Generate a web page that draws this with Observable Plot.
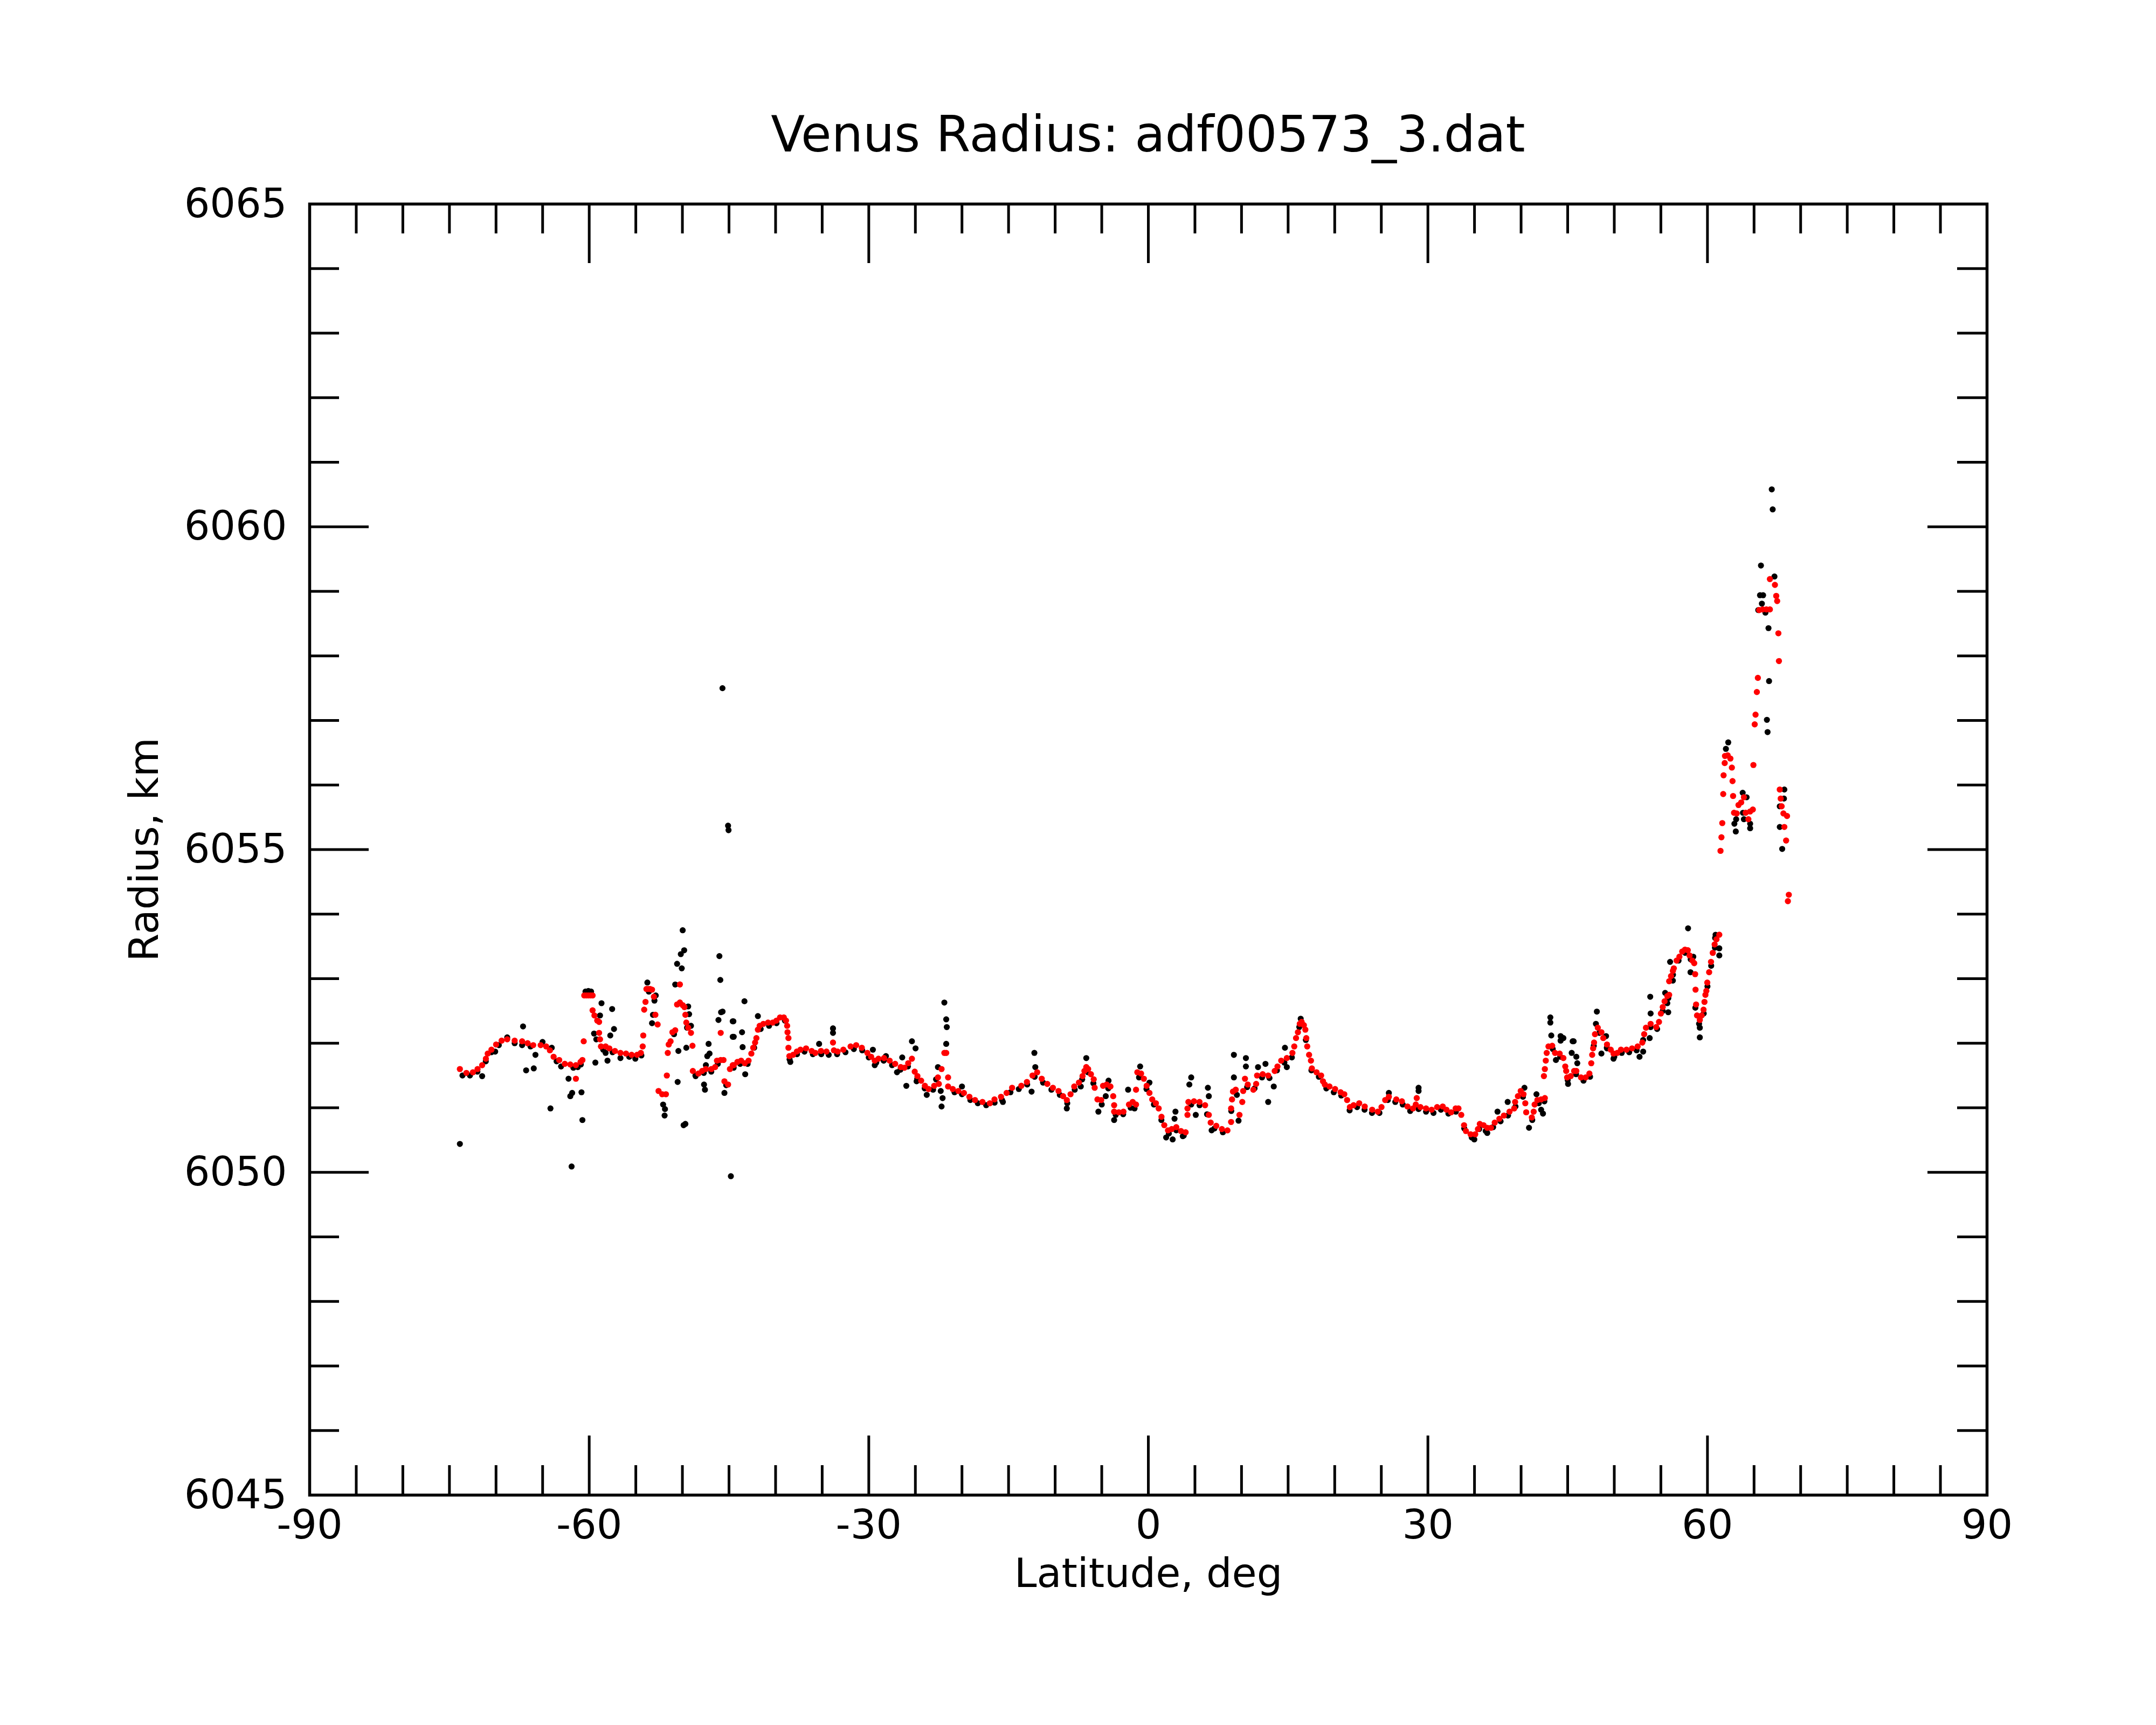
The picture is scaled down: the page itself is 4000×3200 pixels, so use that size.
<!DOCTYPE html>
<html>
<head>
<meta charset="utf-8">
<script src="https://cdn.jsdelivr.net/npm/d3@7"></script>
<script src="https://cdn.jsdelivr.net/npm/@observablehq/plot@0.6"></script>
<style>
html, body { margin: 0; padding: 0; background: #ffffff; }
#wrap { width: 4000px; height: 3200px; position: relative; background: #ffffff; font-family: "DejaVu Sans", sans-serif; }
#title { position: absolute; left: 574px; top: 0; width: 3112px; height: 330px; box-sizing: border-box; padding-top: 204px; font-size: 92px; line-height: 92px; text-align: center; color: #000; white-space: nowrap; }
#chart { position: absolute; left: 0; top: 330px; }
</style>
</head>
<body>
<div id="wrap">
  <div id="title">Venus Radius: adf00573_3.dat</div>
  <div id="chart"></div>
</div>
<script>
// ---- data: [latitude deg, radius km] ----
const redPoints = [
[-73.88,6051.60],[-73.18,6051.54],[-72.48,6051.55],[-71.98,6051.60],[-71.49,6051.66],[-71.09,6051.76],[-70.89,6051.84],[-70.49,6051.90],[-69.99,6051.98],[-69.40,6052.04],[-68.80,6052.06],[-68.00,6052.04],[-67.20,6052.03],[-66.61,6052.00],[-66.01,6051.97],[-65.21,6051.97],[-64.62,6051.95],[-64.22,6051.89],[-63.82,6051.79],[-63.22,6051.74],[-62.62,6051.68],[-62.03,6051.67],[-61.43,6051.66],[-60.93,6051.71],[-60.73,6051.74],[-60.59,6052.03],[-61.43,6051.45],
[-60.53,6052.74],[-60.31,6052.74],[-60.09,6052.74],[-59.86,6052.74],[-59.64,6052.74],[-59.64,6052.51],[-59.44,6052.43],[-59.14,6052.35],[-58.94,6052.33],[-58.94,6052.16],[-58.84,6052.06],[-58.74,6051.95],[-58.24,6051.95],[-57.84,6051.92],[-57.24,6051.88],[-56.65,6051.85],[-56.05,6051.84],[-55.45,6051.82],[-54.86,6051.82],[-54.46,6051.85],[-54.26,6051.95],[-54.20,6052.12],[-54.10,6052.52],[-53.96,6052.64],[-53.86,6052.84],[-53.66,6052.84],[-53.46,6052.84],[-53.26,6052.83],[-53.06,6052.72],[-52.90,6052.44],[-52.66,6052.29],
[-51.67,6051.50],[-52.56,6051.26],[-52.17,6051.21],[-51.77,6051.21],[-51.57,6051.85],[-51.47,6051.98],[-51.27,6052.03],[-51.07,6052.17],[-50.77,6052.20],[-50.57,6052.60],[-50.27,6052.63],[-49.97,6052.59],[-49.78,6052.56],[-49.68,6052.44],[-49.58,6052.32],[-49.38,6052.24],[-49.08,6052.16],[-50.27,6052.91],[-48.92,6051.96],[-48.88,6051.57],[-48.28,6051.53],[-47.88,6051.57],[-47.48,6051.60],[-46.89,6051.60],[-46.49,6051.63],[-46.29,6051.73],[-45.89,6051.74],[-45.59,6051.74],[-45.89,6052.16],[-45.49,6051.41],[-45.10,6051.36],[-44.90,6051.60],[-44.60,6051.66],
[-44.49,6051.66],[-44.10,6051.71],[-43.70,6051.73],[-43.30,6051.69],[-42.90,6051.73],[-42.60,6051.84],[-42.40,6051.93],[-42.20,6052.01],[-42.06,6052.08],[-41.90,6052.21],[-41.71,6052.27],[-41.31,6052.30],[-40.81,6052.32],[-40.31,6052.32],[-39.91,6052.35],[-39.52,6052.40],[-39.12,6052.40],[-38.88,6052.35],[-38.76,6052.27],[-38.72,6052.17],[-38.62,6052.08],[-38.62,6051.93],[-38.52,6051.80],[-38.12,6051.82],[-37.72,6051.87],[-37.33,6051.90],[-36.73,6051.92],[-36.13,6051.88],[-35.73,6051.85],[-35.13,6051.88],[-34.54,6051.87],[-33.84,6052.01],[-33.74,6051.89],[-33.34,6051.87],[-32.73,6051.90],[-31.95,6051.95],[-31.35,6051.97],[-30.75,6051.93],[-30.15,6051.85],[-29.75,6051.79],[-29.36,6051.73],[-28.96,6051.76],[-28.36,6051.77],[-27.76,6051.73],[-27.17,6051.68],[-26.57,6051.63],[-26.17,6051.62],[-25.77,6051.69],[-25.37,6051.76],[-25.07,6051.56],[-24.78,6051.49],[-24.38,6051.42],[-23.98,6051.34],[-23.58,6051.29],[-22.98,6051.34],[-22.58,6051.47],[-22.19,6051.60],[-22.48,6051.37],[-21.89,6051.85],[-21.69,6051.85],[-21.49,6051.47],[-21.49,6051.33],[-20.99,6051.29],[-20.39,6051.26],[-19.79,6051.23],[-19.20,6051.17],[-18.60,6051.12],[-17.80,6051.09],[-17.01,6051.07],[-16.51,6051.13],[-15.81,6051.17],[-15.21,6051.23],[-14.62,6051.31],
[-13.63,6051.34],[-13.03,6051.40],[-12.43,6051.50],[-11.93,6051.55],[-11.44,6051.45],[-10.84,6051.37],[-10.24,6051.31],[-9.64,6051.26],[-9.15,6051.18],[-8.75,6051.12],[-8.35,6051.21],[-7.95,6051.33],[-7.45,6051.39],[-7.06,6051.49],[-6.86,6051.57],[-6.66,6051.63],[-6.46,6051.60],[-6.16,6051.52],[-5.86,6051.44],[-5.76,6051.31],[-5.46,6051.13],[-5.06,6051.12],[-4.86,6051.34],[-4.47,6051.36],[-4.07,6051.33],[-3.77,6051.18],[-3.67,6051.04],[-3.67,6050.94],[-3.17,6050.93],[-2.67,6050.94],[-2.08,6051.05],[-1.68,6051.09],[-1.32,6051.05],[-1.32,6051.28],[-1.18,6051.55],[-0.78,6051.53],[-0.48,6051.45],[-0.18,6051.34],[0.12,6051.23],[0.42,6051.13],[0.81,6051.07],[1.11,6050.99],[1.41,6050.86],[1.71,6050.73],[2.11,6050.65],[2.51,6050.67],[3.00,6050.70],[3.50,6050.64],[4.00,6050.62],[4.20,6050.89],[4.20,6050.99],[4.30,6051.09],[4.90,6051.10],[5.49,6051.09],[6.09,6051.04],[6.49,6050.89],[6.69,6050.77],[7.29,6050.72],[7.89,6050.67],[8.49,6050.65],[8.88,6050.78],[8.88,6050.99],[8.98,6051.13],[9.08,6051.25],[9.38,6051.28],[9.78,6050.89],[10.08,6051.09],[10.18,6051.26],[10.37,6051.45],[10.67,6051.36],[11.27,6051.28],[11.57,6051.37],[11.67,6051.50],[12.27,6051.52],[12.86,6051.50],[13.56,6051.57],[13.86,6051.64],[14.26,6051.73],[14.86,6051.77],
[15.46,6051.85],[15.66,6051.95],[15.85,6052.08],[16.05,6052.17],[16.25,6052.30],[16.45,6052.33],[16.69,6052.28],[16.85,6052.21],[16.95,6052.08],[17.05,6051.95],[17.25,6051.82],[17.45,6051.73],[17.55,6051.61],[18.05,6051.55],[18.54,6051.50],[18.74,6051.41],[18.94,6051.36],[19.44,6051.33],[20.04,6051.29],[20.63,6051.24],[21.03,6051.21],[21.33,6051.12],[21.63,6051.01],[22.03,6051.04],[22.63,6051.07],[23.22,6051.02],[24.02,6050.97],[24.62,6050.94],[25.02,6051.01],[25.42,6051.12],[25.81,6051.17],[26.61,6051.13],[27.21,6051.10],[27.81,6051.02],[28.40,6050.99],[28.70,6051.05],[28.80,6051.15],[29.20,6051.01],[29.80,6050.99],[30.40,6050.97],[30.99,6051.01],[31.59,6051.02],[31.99,6050.97],[32.49,6050.93],[32.98,6050.99],[33.28,6050.99],[33.58,6050.89],[33.88,6050.73],[34.08,6050.64],[34.58,6050.59],[35.08,6050.59],[35.37,6050.67],[35.57,6050.75],[35.97,6050.73],[36.37,6050.69],[36.77,6050.69],[37.17,6050.77],[37.67,6050.83],[38.16,6050.88],[38.76,6050.94],[39.26,6050.99],[39.36,6051.09],[39.66,6051.18],[39.96,6051.26],[40.26,6051.21],[40.45,6051.07],[40.55,6050.93],[41.15,6050.85],[41.35,6050.94],[41.45,6051.05],[41.75,6051.12],[42.15,6051.13],[42.55,6051.15],[42.45,6051.49],[42.55,6051.60],[42.65,6051.73],[42.75,6051.85],[42.94,6051.95],[43.34,6051.96],[43.64,6051.85],[44.14,6051.84],[44.54,6051.77],[44.74,6051.64],[44.84,6051.57],[44.94,6051.47],[45.33,6051.49],[45.69,6051.57],
[45.93,6051.57],[46.43,6051.47],[46.93,6051.47],[47.33,6051.53],[47.53,6051.69],[47.63,6051.82],[47.73,6051.92],[47.83,6052.01],[47.93,6052.14],[48.23,6052.24],[48.62,6052.17],[48.82,6052.08],[49.22,6051.98],[49.62,6051.90],[49.92,6051.84],[50.32,6051.85],[50.72,6051.90],[51.31,6051.90],[51.91,6051.92],[52.51,6051.95],[53.01,6052.01],[53.21,6052.14],[53.40,6052.24],[53.90,6052.30],[54.50,6052.25],[54.80,6052.33],[55.00,6052.46],[55.20,6052.56],[55.40,6052.65],[55.69,6052.73],[55.89,6052.75],[55.89,6052.96],[56.09,6053.04],[56.29,6053.12],[56.39,6053.16],[56.69,6053.28],[56.99,6053.34],[57.29,6053.42],[57.59,6053.45],[57.89,6053.44],[58.08,6053.36],[58.38,6053.28],[58.58,6053.24],[58.68,6053.07],[58.72,6052.83],[58.78,6052.60],[58.88,6052.43],[59.18,6052.36],[59.38,6052.43],[59.58,6052.52],[59.68,6052.64],[59.78,6052.75],[59.88,6052.81],[59.98,6052.94],[60.18,6053.10],[60.38,6053.26],[60.57,6053.40],[60.77,6053.53],[60.97,6053.61],[61.27,6053.68],
[61.40,6054.98],[61.50,6055.19],[61.59,6055.41],[61.69,6055.86],[61.73,6056.15],[61.85,6056.34],[61.88,6056.45],[62.17,6056.46],[62.46,6056.41],[62.62,6056.27],[62.69,6056.06],[62.75,6055.83],[62.85,6055.57],[63.14,6055.56],[63.33,6055.69],[63.62,6055.73],[63.91,6055.81],[64.10,6055.57],[64.39,6055.47],[64.58,6055.59],[64.87,6055.62],[64.93,6056.31],[65.07,6056.94],[65.16,6057.09],[65.30,6057.44],[65.41,6057.66],[65.55,6058.71],[65.93,6058.72],[66.32,6058.72],[66.70,6058.72],[66.70,6059.19],[67.24,6059.10],[67.38,6058.93],[67.48,6058.85],[67.61,6058.35],[67.67,6057.92],[67.76,6055.93],[67.86,6055.79],[67.96,6055.67],[68.15,6055.56],[68.54,6055.52],[68.25,6055.35],[68.44,6055.14],[68.73,6054.30],[68.63,6054.20]
];

// black dots lying just beneath the red track
const blackTrack = [
[-73.60,6051.50],[-72.80,6051.50],[-72.00,6051.56],[-71.10,6051.72],[-70.50,6051.86],[-69.70,6051.97],[-68.80,6052.09],[-68.00,6052.00],[-67.20,6051.97],[-66.30,6051.95],[-65.01,6052.02],[-64.02,6051.93],[-63.50,6051.72],[-63.02,6051.64],[-61.70,6051.62],[-61.23,6051.63],[-60.90,6051.67],[-58.50,6051.90],[-58.24,6051.85],[-57.50,6051.86],[-56.65,6051.77],[-55.70,6051.79],[-55.05,6051.76],[-54.40,6051.81],[-53.60,6052.80],[-53.00,6052.66],[-50.90,6052.14],[-49.50,6052.24],[-48.60,6051.50],[-47.70,6051.54],[-46.90,6051.56],[-46.20,6051.68],[-45.30,6051.35],[-44.50,6051.62],
[-43.80,6051.68],[-43.00,6051.68],[-42.30,6051.93],[-41.60,6052.22],[-40.70,6052.27],[-39.90,6052.31],[-39.00,6052.35],[-38.50,6051.75],[-37.70,6051.83],[-36.90,6051.87],[-36.00,6051.83],[-35.10,6051.83],[-34.30,6051.82],[-33.40,6051.83],[-32.50,6051.86],[-31.60,6051.91],[-30.70,6051.89],[-30.00,6051.78],[-29.20,6051.70],[-28.40,6051.73],[-27.50,6051.66],[-26.60,6051.59],[-25.80,6051.64],[-24.80,6051.45],[-24.00,6051.30],[-23.10,6051.28],[-20.80,6051.24],[-20.00,6051.21],[-19.10,6051.12],[-18.30,6051.07],[-17.40,6051.04],[-16.50,6051.08],[-15.70,6051.12],[-14.80,6051.24],
[-13.90,6051.29],[-13.00,6051.36],[-12.20,6051.48],[-11.30,6051.39],[-10.40,6051.28],[-9.50,6051.20],[-8.70,6051.07],[-7.90,6051.28],[-7.10,6051.44],[-6.50,6051.55],[-5.90,6051.38],[-5.00,6051.05],[-4.30,6051.30],[-3.50,6050.89],[-2.70,6050.90],[-1.90,6051.00],[-1.00,6051.47],[-0.20,6051.29],[0.60,6051.05],[1.40,6050.81],[2.20,6050.60],[3.00,6050.65],[3.80,6050.57],[4.60,6051.05],[5.50,6051.04],[6.30,6050.90],[7.10,6050.68],[8.00,6050.62],[8.90,6050.95],[9.50,6051.20],[10.60,6051.32],[11.40,6051.30],[12.20,6051.47],[13.00,6051.46],[13.80,6051.58],[14.60,6051.70],[15.40,6051.78],
[16.20,6052.25],[16.90,6052.05],[17.50,6051.58],[18.30,6051.48],[19.10,6051.30],[19.90,6051.24],[20.70,6051.19],[21.60,6050.96],[22.40,6051.01],[23.20,6050.97],[24.00,6050.92],[24.80,6050.92],[25.70,6051.12],[26.50,6051.09],[27.30,6051.05],[28.10,6050.95],[29.00,6050.98],[29.80,6050.94],[30.60,6050.92],[31.40,6050.97],[32.20,6050.91],[33.00,6050.94],[33.90,6050.68],[34.70,6050.54],[35.50,6050.67],[36.20,6050.64],[37.00,6050.70],[37.80,6050.79],[38.60,6050.88],[39.40,6051.02],[40.20,6051.17],[41.20,6050.81],[41.90,6051.07],[42.50,6051.10],[43.40,6051.91],[44.20,6051.79],
[45.00,6051.43],[45.90,6051.52],[46.70,6051.42],[47.40,6051.48],[47.80,6051.96],[48.40,6052.16],[49.20,6051.93],[50.00,6051.79],[50.80,6051.85],[51.60,6051.86],[52.40,6051.89],[53.10,6052.05],[53.90,6052.25],[54.60,6052.22],[55.20,6052.50],[55.80,6052.70],[56.30,6053.06],[56.90,6053.28],[57.60,6053.40],[58.20,6053.30],[58.70,6052.55],[59.10,6052.30],[59.60,6052.46],[60.00,6052.88],[60.40,6053.20],[60.80,6053.48]
];

// scattered black dots away from the red track
const blackOutliers = [
[-73.88,6050.44],[-61.89,6050.09],[-64.16,6050.99],[-60.73,6050.81],[-62.22,6051.45],[-61.83,6051.23],[-62.03,6051.18],[-60.83,6051.24],[-67.10,6052.26],[-65.77,6051.82],[-66.77,6051.58],[-65.95,6051.61],[-71.49,6051.49],[-70.09,6051.87],
[-59.34,6051.70],[-58.04,6051.73],[-59.48,6052.15],[-59.24,6052.06],[-58.68,6052.62],[-58.84,6052.43],[-57.54,6052.53],[-57.34,6052.22],[-57.74,6052.12],[-60.09,6052.81],[-60.40,6052.80],[-59.80,6052.80],
[-53.76,6052.94],[-52.86,6052.74],[-53.26,6052.31],[-53.16,6052.44],[-52.07,6051.05],[-51.87,6050.98],[-51.91,6050.88],[-49.87,6050.73],[-49.68,6050.75],[-50.51,6051.40],[-50.43,6051.88],[-49.58,6051.93],[-50.77,6052.91],[-50.57,6053.23],[-50.07,6053.16],[-50.17,6053.38],[-49.81,6053.44],[-49.97,6053.75],[-49.38,6052.57],[-49.28,6052.45],[-49.08,6052.27],
[-46.03,6053.35],[-45.93,6052.98],[-45.85,6052.48],[-46.13,6052.36],[-44.60,6052.34],[-44.60,6052.10],[-47.19,6051.99],[-47.09,6051.84],[-47.33,6051.80],[-47.48,6051.66],[-47.68,6051.36],[-47.58,6051.28],[-48.58,6051.49],[-45.49,6051.23],[-44.80,6049.94],[-45.70,6057.50],[-45.10,6055.37],[-45.05,6055.30],
[-43.34,6052.65],[-41.90,6052.42],[-44.53,6052.34],[-44.49,6052.10],[-43.60,6052.17],[-43.54,6051.94],[-43.26,6051.52],[-45.69,6052.49],[-33.84,6052.23],[-33.84,6052.16],[-35.33,6051.99],[-38.42,6051.71],[-29.56,6051.90],[-29.36,6051.66],[-26.41,6051.78],[-25.97,6051.34],[-25.37,6052.03],[-24.98,6051.92],[-24.87,6051.41],[-23.78,6051.20],[-22.78,6051.44],[-22.58,6051.63],[-22.28,6051.26],[-22.08,6051.15],[-22.19,6051.02],[-21.89,6052.63],[-21.69,6052.37],[-21.63,6052.25],[-21.69,6051.99],[-20.00,6051.33],[-15.61,6051.09],[-26.97,6051.55],[-28.16,6051.80],
[-12.23,6051.85],[-12.13,6051.63],[-12.53,6051.25],[-8.75,6050.99],[-6.66,6051.77],[-7.25,6051.33],[-5.36,6050.94],[-4.57,6051.18],[-4.27,6051.42],[-2.17,6051.28],[-1.48,6050.99],[-3.67,6050.81],[-0.88,6051.64],[0.12,6051.39],[1.91,6050.54],[2.61,6050.51],[2.91,6050.94],[2.81,6050.83],[3.70,6050.56],[4.60,6051.47],[4.40,6051.36],[6.39,6051.31],[6.49,6051.18],[5.09,6050.89],[6.79,6050.65],[9.18,6051.82],[9.18,6051.47],[10.47,6051.77],[10.47,6051.64],[11.77,6051.63],[12.57,6051.68],[12.86,6051.09],[13.46,6051.33],[14.66,6051.93],[14.86,6051.63],[9.68,6050.80],
[16.35,6052.38],[29.00,6051.31],[29.00,6051.26],[25.81,6051.23],[38.56,6051.09],[37.47,6050.94],[40.36,6051.31],[40.85,6050.69],[41.65,6051.21],[42.35,6050.91],[42.15,6050.97],[43.14,6052.40],[43.14,6052.32],[43.24,6052.12],[44.24,6052.11],[44.24,6052.04],[45.53,6052.03],[45.43,6051.85],[45.04,6051.37],[43.74,6051.74],[34.98,6050.51],[36.37,6050.61],
[44.54,6052.08],[45.64,6052.03],[45.93,6051.79],[46.03,6051.69],[48.13,6052.49],[48.03,6052.30],[48.62,6051.84],[49.12,6052.11],[49.22,6051.92],[49.92,6051.76],[52.71,6051.79],[53.10,6051.87],[53.80,6052.08],[53.86,6052.72],[53.90,6052.46],[55.46,6052.78],[55.69,6052.62],[55.79,6052.48],[55.99,6053.26],[56.29,6052.97],[57.92,6053.78],[58.48,6053.34],[58.18,6053.10],[59.18,6052.24],[59.18,6052.09],[61.27,6053.47],[61.27,6053.36],[60.87,6053.68],
[66.90,6060.58],[67.00,6060.27],[65.74,6059.40],[67.19,6059.23],[65.64,6058.94],[65.97,6058.94],[65.84,6058.81],[65.45,6058.71],[66.22,6058.67],[66.55,6058.43],[66.61,6057.61],[66.38,6057.01],[66.45,6056.82],[62.23,6056.66],[61.98,6056.56],[63.78,6055.88],[64.20,6055.81],[63.81,6055.57],[63.08,6055.47],[62.89,6055.40],[63.04,6055.28],[63.91,6055.47],[64.58,6055.40],[64.58,6055.33],[68.25,6055.93],[68.21,6055.79],[67.76,6055.67],[67.76,6055.35],[68.02,6055.01],[60.82,6053.63]
];

// axes
const xLabels = [-90, -60, -30, 0, 30, 60, 90];
const yLabels = [6045, 6050, 6055, 6060, 6065];
const xMajor = [-60, -30, 0, 30, 60];
const xMinor = [-85,-80,-75,-70,-65,-55,-50,-45,-40,-35,-25,-20,-15,-10,-5,5,10,15,20,25,35,40,45,50,55,65,70,75,80,85];
const yMajor = [6050, 6055, 6060];
const yMinor = [6046,6047,6048,6049,6051,6052,6053,6054,6056,6057,6058,6059,6061,6062,6063,6064];

const W = 4000, H = 2870;
const mL = 574, mR = 314, mT = 48, mB = 427;
const innerW = W - mL - mR, innerH = H - mT - mB;
const longT = 110, shortT = 55, tw = 5;

const chart = Plot.plot({
  width: W, height: H,
  marginLeft: mL, marginRight: mR, marginTop: mT, marginBottom: mB,
  style: { fontFamily: "DejaVu Sans", fontSize: "75px", background: "#ffffff", color: "#000" },
  x: { domain: [-90, 90] },
  y: { domain: [6045, 6065] },
  marks: [
    Plot.dot(blackTrack, { x: d => d[0], y: d => d[1], r: 5.6, fill: "#000000", stroke: null }),
    Plot.dot(blackOutliers, { x: d => d[0], y: d => d[1], r: 5.6, fill: "#000000", stroke: null }),
    Plot.dot(redPoints, { x: d => d[0], y: d => d[1], r: 5.7, fill: "#ff0000", stroke: null }),
    // inward ticks, bottom & top
    Plot.tickX(xMinor, { x: d => d, insetTop: innerH - shortT, stroke: "#000", strokeWidth: tw }),
    Plot.tickX(xMinor, { x: d => d, insetBottom: innerH - shortT, stroke: "#000", strokeWidth: tw }),
    Plot.tickX(xMajor, { x: d => d, insetTop: innerH - longT, stroke: "#000", strokeWidth: tw }),
    Plot.tickX(xMajor, { x: d => d, insetBottom: innerH - longT, stroke: "#000", strokeWidth: tw }),
    // inward ticks, left & right
    Plot.tickY(yMinor, { y: d => d, insetRight: innerW - shortT, stroke: "#000", strokeWidth: tw }),
    Plot.tickY(yMinor, { y: d => d, insetLeft: innerW - shortT, stroke: "#000", strokeWidth: tw }),
    Plot.tickY(yMajor, { y: d => d, insetRight: innerW - longT, stroke: "#000", strokeWidth: tw }),
    Plot.tickY(yMajor, { y: d => d, insetLeft: innerW - longT, stroke: "#000", strokeWidth: tw }),
    Plot.frame({ stroke: "#000", strokeWidth: 5.5 }),
    Plot.axisX(xLabels, { anchor: "bottom", tickSize: 0, tickPadding: 27, tickFormat: d => String(d), fontSize: 75, label: null }),
    Plot.axisY(yLabels, { anchor: "left", tickSize: 0, tickPadding: 42, tickFormat: d => String(d), fontSize: 75, label: null }),
    Plot.text(["Latitude, deg"], { text: d => d, frameAnchor: "bottom", dy: 146, fontSize: 75, lineAnchor: "middle", textAnchor: "middle", fill: "#000" }),
    Plot.text(["Radius, km"], { text: d => d, frameAnchor: "left", dx: -306, rotate: -90, fontSize: 75, lineAnchor: "middle", textAnchor: "middle", fill: "#000" })
  ]
});
document.getElementById("chart").appendChild(chart);
</script>
</body>
</html>
